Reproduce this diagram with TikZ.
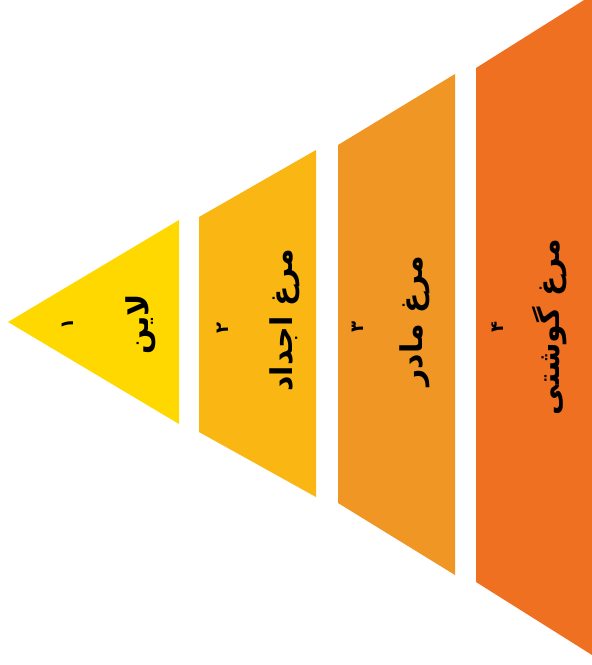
\documentclass[tikz,border=0pt]{standalone}
\usepackage{fontspec}
\TeXXeTstate=1
\newfontfamily\arabicfont[Script=Arabic]{DejaVu Sans}
\definecolor{segA}{RGB}{255,216,0}
\definecolor{segB}{RGB}{250,182,18}
\definecolor{segC}{RGB}{239,150,36}
\definecolor{segD}{RGB}{240,112,34}
\tikzset{
  mainlabel/.style={rotate=90, inner sep=0pt, font=\arabicfont\bfseries\fontsize{30}{33}\selectfont, text=black},
  numlabel/.style={rotate=90, inner sep=0pt, font=\arabicfont\bfseries\fontsize{18}{20}\selectfont, text=black}
}
\begin{document}
\begin{tikzpicture}[x=1pt,y=-1pt]
\useasboundingbox (0,0) rectangle (592,665);
\clip (0,0) rectangle (592,665);
\fill[white] (0,0) rectangle (592,665);
% segments
\fill[segA] (8,322) -- (179,220) -- (179,424) -- cycle;
\fill[segB] (199,217) -- (316,150) -- (316,497) -- (199,432) -- cycle;
\fill[segC] (338,145) -- (455,74) -- (455,575) -- (338,503) -- cycle;
\fill[segD] (476,68) -- (600,-10) -- (600,660) -- (476,582) -- cycle;
% labels
\node[numlabel]  (n1) at (68,324)  {\beginR ۱\endR};
\node[mainlabel] (t1) at (141,324) {\beginR لاین\endR};
\node[numlabel]  (n2) at (223,328) {\beginR ۲\endR};
\node[mainlabel] (t2) at (285,320) {\beginR مرغ اجداد\endR};
\node[numlabel]  (n3) at (358,327) {\beginR ۳\endR};
\node[mainlabel] (t3) at (415,321) {\beginR مرغ مادر\endR};
\node[numlabel]  (n4) at (498,327) {\beginR ۴\endR};
\node[mainlabel] (t4) at (550,327) {\beginR مرغ گوشتی\endR};
\end{tikzpicture}
\end{document}
